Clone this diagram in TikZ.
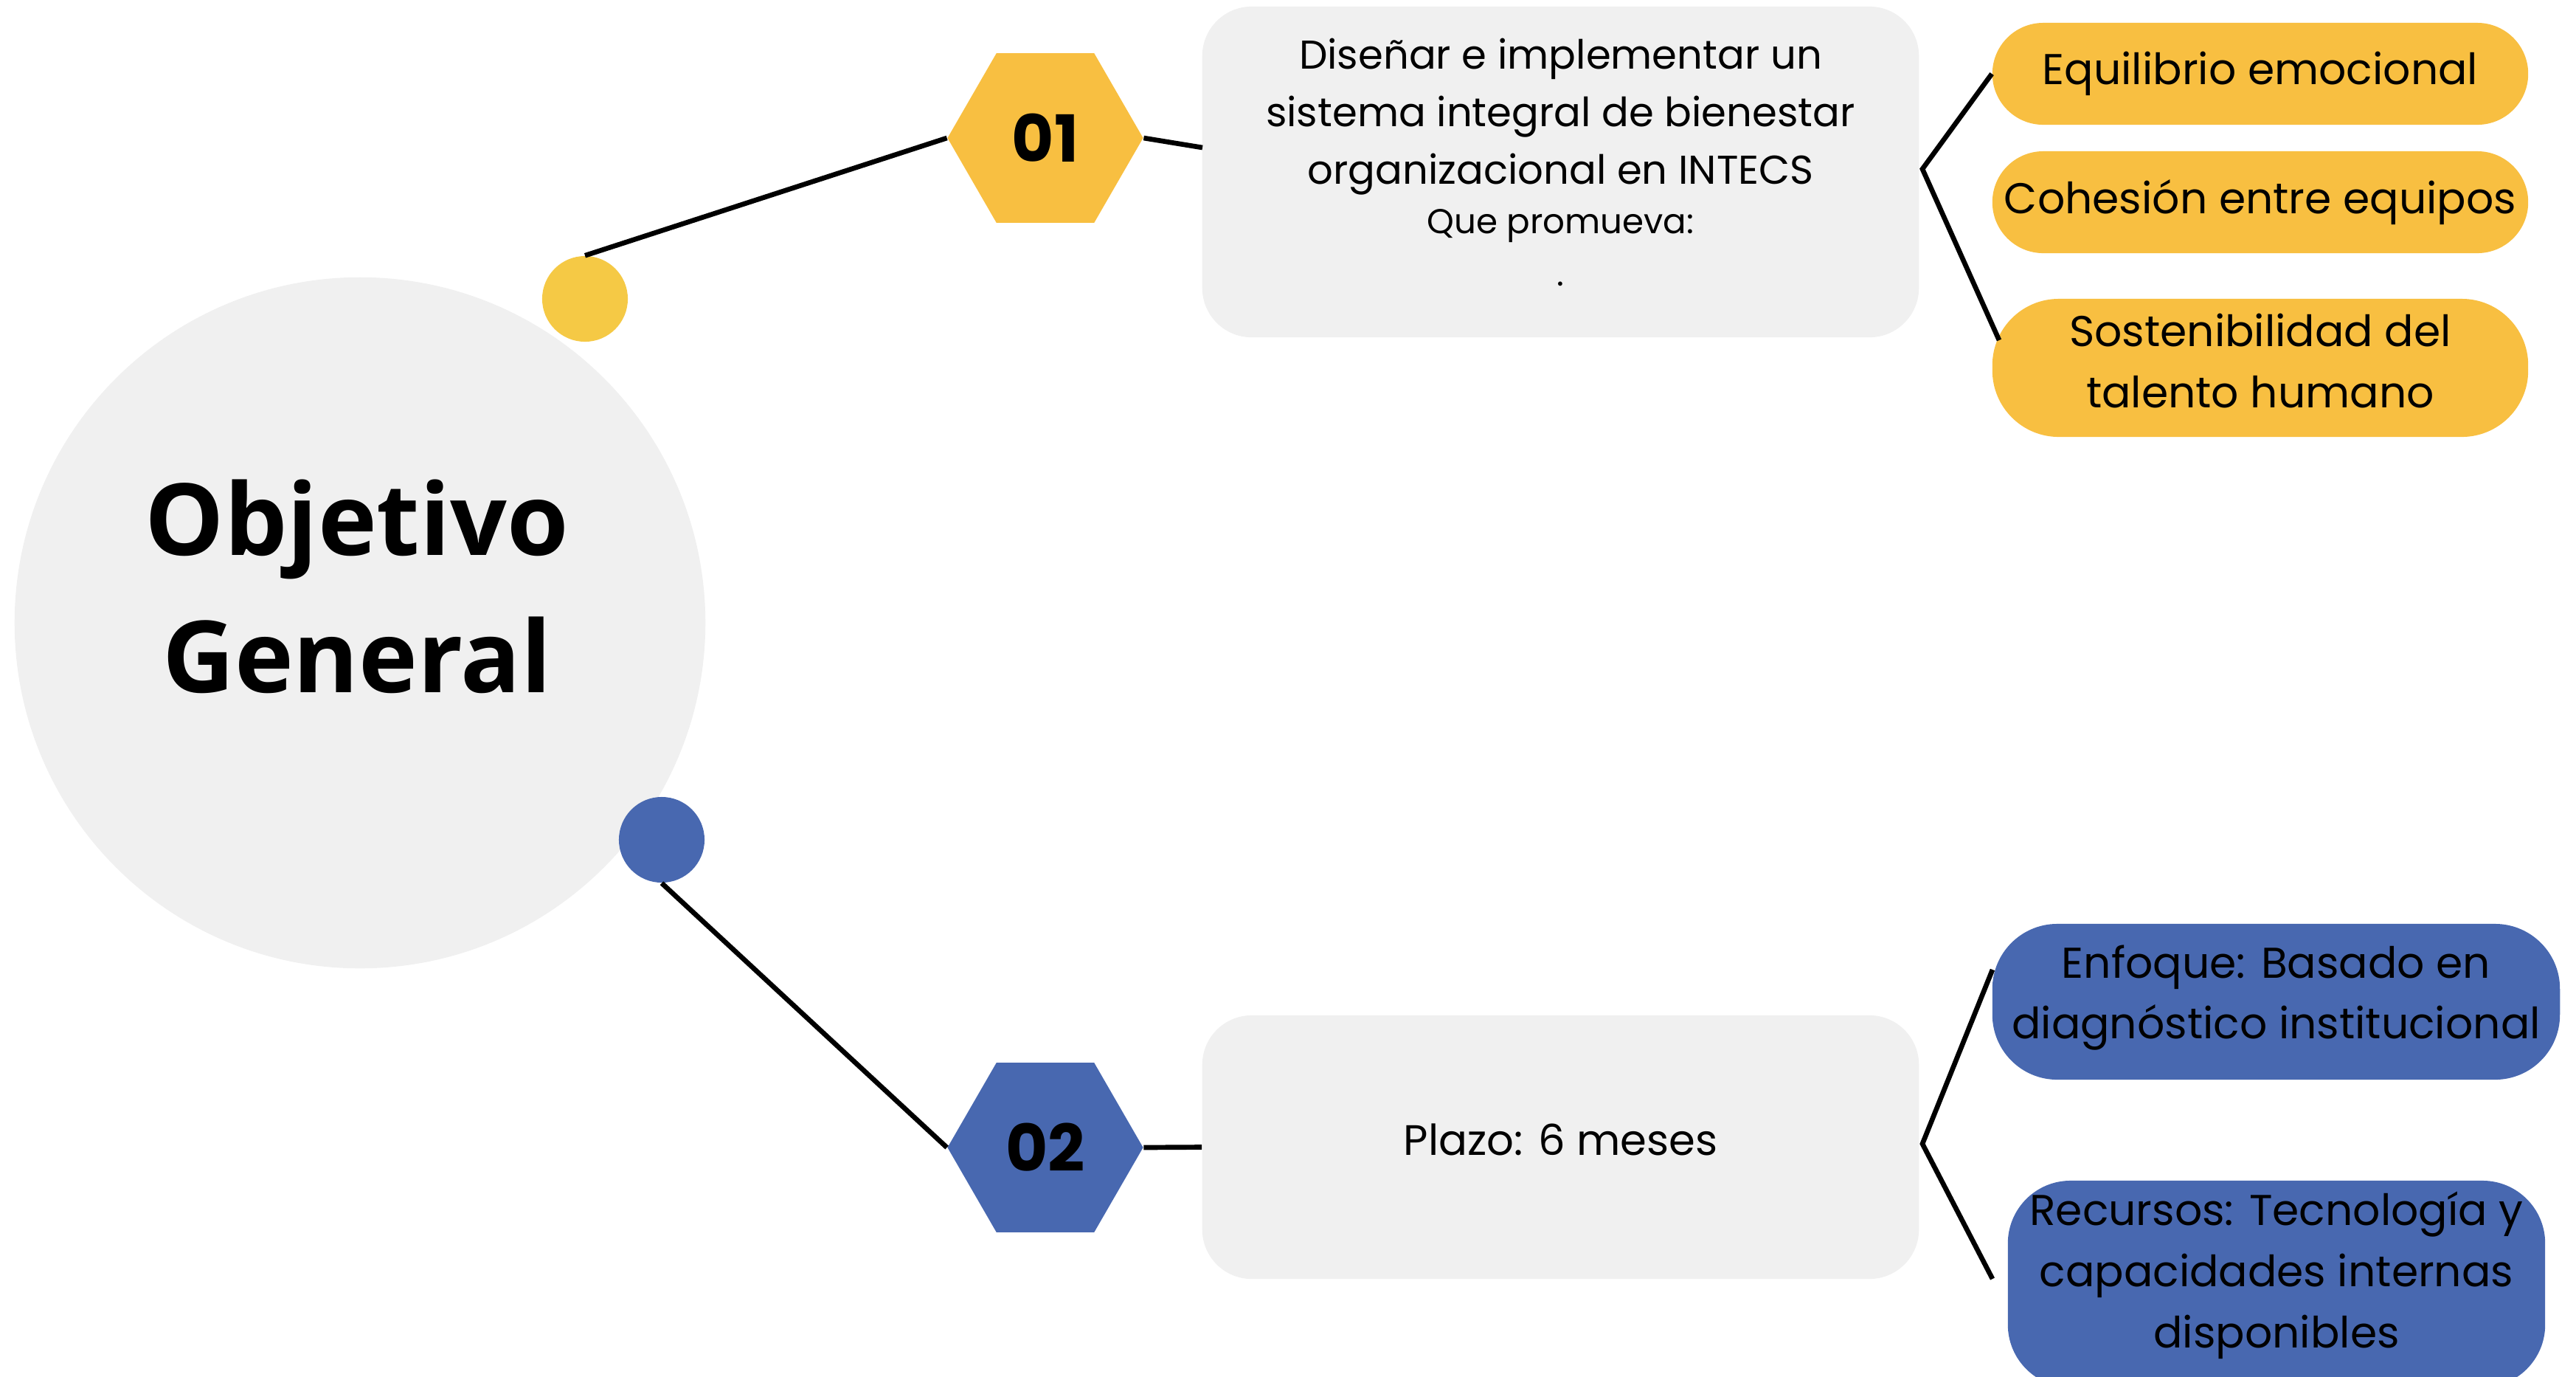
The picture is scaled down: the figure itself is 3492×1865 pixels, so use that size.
\documentclass[tikz,border=0pt]{standalone}
\usepackage{fontspec}
\setmainfont{Poppins}
\newfontfamily\osans{Open Sans}
\usetikzlibrary{shapes.geometric}
\definecolor{ygold}{HTML}{F8BF41}
\definecolor{ylemon}{HTML}{F5C945}
\definecolor{bblue}{HTML}{4868B0}
\definecolor{lgrey}{HTML}{F0F0F0}
\begin{document}
\begin{tikzpicture}[x=0.01cm,y=-0.01cm,
  conn/.style={line width=1.9pt,black},
  hexnode/.style={regular polygon,regular polygon sides=6,minimum size=2.65cm,inner sep=0pt,font=\fontsize{25}{25}\selectfont\bfseries},
  greybox/.style={rectangle,rounded corners=0.67cm,fill=lgrey,minimum width=9.71cm,inner sep=0pt,align=center},
  pill/.style={rectangle,inner sep=0pt,align=center,font=\fontsize{16.6}{23.5}\selectfont},
  body/.style={font=\fontsize{15.5}{22.2}\selectfont}
]
\useasboundingbox (0,0) rectangle (3492,1865);
\clip (0,0) rectangle (3492,1865);

% central circle
\node[circle,fill=lgrey,minimum size=9.36cm,inner sep=0pt] (main) at (488,844) {};
\node[font=\osans\bfseries\fontsize{38.4}{53}\selectfont,align=center] (title) at (484,795) {Objetivo\\General};

% small circles
\node[circle,fill=ylemon,minimum size=1.16cm,inner sep=0pt] (yc) at (793,405) {};
\node[circle,fill=bblue,minimum size=1.16cm,inner sep=0pt] (bc) at (897,1138) {};

% hexagons
\node[hexnode,fill=ygold] (h1) at (1417,187) {01};
\node[hexnode,fill=bblue] (h2) at (1417,1555) {02};

% grey boxes
\node[greybox,minimum height=4.48cm] (box1) at (2115.5,233) {};
\node[body,align=center] (t1) at (2115.5,220) {Diseñar e implementar un\\sistema integral de bienestar\\organizacional en INTECS\\[-3pt]{\fontsize{13.3}{20}\selectfont Que promueva:}\\[-2pt]{\fontsize{13.3}{20}\selectfont .}};
\node[greybox,minimum height=3.57cm] (box2) at (2115.5,1554.5) {};
\node[font=\fontsize{16.4}{22}\selectfont] (t2) at (2115.5,1544) {Plazo: 6 meses};

% yellow pills
\node[pill,fill=ygold,rounded corners=0.69cm,minimum width=7.26cm,minimum height=1.38cm] (p1) at (3064,100) {Equilibrio emocional};
\node[pill,fill=ygold,rounded corners=0.69cm,minimum width=7.26cm,minimum height=1.38cm] (p2) at (3064,274) {Cohesión entre equipos};
\node[pill,fill=ygold,rounded corners=0.9cm,minimum width=7.26cm,minimum height=1.87cm] (p3) at (3064,498.5) {};
\node[pill,font=\fontsize{16.6}{23.8}\selectfont] (p3t) at (3064,489) {Sostenibilidad del\\talento humano};

% blue pills
\node[pill,fill=bblue,rounded corners=0.88cm,minimum width=7.69cm,minimum height=2.11cm] (q1) at (3085.5,1357.5) {};
\node[pill] (q1t) at (3085.5,1352) {Enfoque: Basado en\\diagnóstico institucional};
\node[pill,fill=bblue,rounded corners=0.85cm,minimum width=7.28cm,minimum height=2.8cm] (q2) at (3086,1740) {};
\node[pill,font=\fontsize{16.6}{23.6}\selectfont] (q2t) at (3086,1728) {Recursos: Tecnología y\\capacidades internas\\disponibles};

% connectors
\coordinate (c1) at (1630,200);
\coordinate (b1) at (2606,229);
\coordinate (e3) at (2710,461);
\coordinate (b2) at (2606,1550);
\coordinate (f1) at (2701,1314);
\coordinate (f2) at (2701,1733);

\draw[conn] (yc.north) -- (h1.west);
\draw[conn] (h1.east) -- (c1);
\draw[conn] (bc.south) -- (h2.west);
\draw[conn] (h2.east) -- (box2.west);
\draw[conn] (p1.west) -- (b1) -- (e3);
\draw[conn] (f1) -- (b2) -- (f2);
\end{tikzpicture}
\end{document}
